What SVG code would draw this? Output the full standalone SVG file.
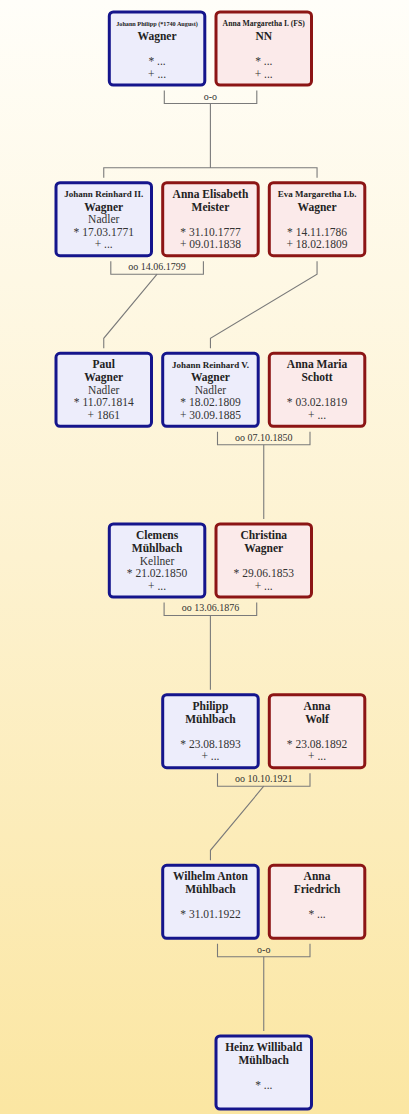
<svg xmlns="http://www.w3.org/2000/svg" width="409" height="1114" viewBox="0 0 409 1114">
<defs>
<linearGradient id="bg" x1="0" y1="0" x2="0" y2="1">
<stop offset="0" stop-color="#fffef9"/>
<stop offset="0.5" stop-color="#fdf2d0"/>
<stop offset="1" stop-color="#fbe6a2"/>
</linearGradient>
</defs>
<style>
.m rect{fill:#ededfb;stroke:#15158c;stroke-width:3}
.f rect{fill:#fbeaea;stroke:#8c1515;stroke-width:3}
text{font-family:"Liberation Serif","Times New Roman",serif;text-anchor:middle;fill:#333}
.n{font-weight:bold;font-size:11.5px;fill:#222}
.s{font-weight:bold;font-size:9px;fill:#222}
.t{font-size:11.5px}
.l{font-size:10px;fill:#333}
.c{fill:none;stroke:#7a7a7a;stroke-width:1.1}
</style>
<rect x="0" y="0" width="409" height="1114" fill="url(#bg)"/>
<g id="connectors">
<path class="c" d="M164.3,90.5 V103.5 H256.8 V90.5"/>
<path class="c" d="M210.4,103.5 V167.7 M103.75,177.7 V167.7 H317.05 V177.7"/>
<path class="c" d="M110.8,261.2 V274.2 H203.4 V261.2"/>
<path class="c" d="M157.1,274.2 L103.75,338.3 V348.3"/>
<path class="c" d="M317.05,261.2 V274.2 L210.45,338.3 V348.3"/>
<path class="c" d="M217.5,431.8 V444.8 H310 V431.8"/>
<path class="c" d="M263.75,444.8 V519"/>
<path class="c" d="M164.1,602.5 V615.5 H256.7 V602.5"/>
<path class="c" d="M210.4,615.5 V689.7"/>
<path class="c" d="M217.5,773.2 V786.2 H310 V773.2"/>
<path class="c" d="M263.75,786.2 L210.45,850.3 V860.3"/>
<path class="c" d="M217.5,943.8 V956.8 H310 V943.8"/>
<path class="c" d="M263.75,956.8 V1031"/>
<text class="l" x="210.4" y="99.5">o-o</text>
<text class="l" x="157.1" y="270">oo 14.06.1799</text>
<text class="l" x="263.75" y="440.6">oo 07.10.1850</text>
<text class="l" x="210.4" y="611.3">oo 13.06.1876</text>
<text class="l" x="263.75" y="782">oo 10.10.1921</text>
<text class="l" x="263.75" y="952.6">o-o</text>
</g>
<g id="johann-philipp" class="m" transform="translate(109.3,12)">
<rect width="95.5" height="73" rx="4"/>
<text class="s" x="47.75" y="13.5" style="font-size:6.2px">Johann Philipp (*1740 August)</text>
<text class="n" x="47.75" y="28">Wagner</text>
<text class="t" x="47.75" y="53">* ...</text>
<text class="t" x="47.75" y="65.5">+ ...</text>
</g>
<g id="anna-margaretha-i" class="f" transform="translate(216,12)">
<rect width="95.5" height="73" rx="4"/>
<text class="s" x="47.75" y="14" style="font-size:7.7px">Anna Margaretha I. (FS)</text>
<text class="n" x="47.75" y="28">NN</text>
<text class="t" x="47.75" y="53">* ...</text>
<text class="t" x="47.75" y="65.5">+ ...</text>
</g>
<g id="johann-reinhard-ii" class="m" transform="translate(56,182.7)">
<rect width="95.5" height="73" rx="4"/>
<text class="s" x="47.75" y="14.3">Johann Reinhard II.</text>
<text class="n" x="47.75" y="28">Wagner</text>
<text class="t" x="47.75" y="40.5">Nadler</text>
<text class="t" x="47.75" y="53">* 17.03.1771</text>
<text class="t" x="47.75" y="65.5">+ ...</text>
</g>
<g id="anna-elisabeth" class="f" transform="translate(162.7,182.7)">
<rect width="95.5" height="73" rx="4"/>
<text class="n" x="47.75" y="15">Anna Elisabeth</text>
<text class="n" x="47.75" y="28">Meister</text>
<text class="t" x="47.75" y="53">* 31.10.1777</text>
<text class="t" x="47.75" y="65.5">+ 09.01.1838</text>
</g>
<g id="eva-margaretha" class="f" transform="translate(269.3,182.7)">
<rect width="95.5" height="73" rx="4"/>
<text class="s" x="47.75" y="14.3">Eva Margaretha I.b.</text>
<text class="n" x="47.75" y="28">Wagner</text>
<text class="t" x="47.75" y="53">* 14.11.1786</text>
<text class="t" x="47.75" y="65.5">+ 18.02.1809</text>
</g>
<g id="paul" class="m" transform="translate(56,353.3)">
<rect width="95.5" height="73" rx="4"/>
<text class="n" x="47.75" y="15">Paul</text>
<text class="n" x="47.75" y="28">Wagner</text>
<text class="t" x="47.75" y="40.5">Nadler</text>
<text class="t" x="47.75" y="53">* 11.07.1814</text>
<text class="t" x="47.75" y="65.5">+ 1861</text>
</g>
<g id="johann-reinhard-v" class="m" transform="translate(162.7,353.3)">
<rect width="95.5" height="73" rx="4"/>
<text class="s" x="47.75" y="14.3">Johann Reinhard V.</text>
<text class="n" x="47.75" y="28">Wagner</text>
<text class="t" x="47.75" y="40.5">Nadler</text>
<text class="t" x="47.75" y="53">* 18.02.1809</text>
<text class="t" x="47.75" y="65.5">+ 30.09.1885</text>
</g>
<g id="anna-maria" class="f" transform="translate(269.3,353.3)">
<rect width="95.5" height="73" rx="4"/>
<text class="n" x="47.75" y="15">Anna Maria</text>
<text class="n" x="47.75" y="28">Schott</text>
<text class="t" x="47.75" y="53">* 03.02.1819</text>
<text class="t" x="47.75" y="65.5">+ ...</text>
</g>
<g id="clemens" class="m" transform="translate(109.3,524)">
<rect width="95.5" height="73" rx="4"/>
<text class="n" x="47.75" y="15">Clemens</text>
<text class="n" x="47.75" y="28">Mühlbach</text>
<text class="t" x="47.75" y="40.5">Kellner</text>
<text class="t" x="47.75" y="53">* 21.02.1850</text>
<text class="t" x="47.75" y="65.5">+ ...</text>
</g>
<g id="christina" class="f" transform="translate(216,524)">
<rect width="95.5" height="73" rx="4"/>
<text class="n" x="47.75" y="15">Christina</text>
<text class="n" x="47.75" y="28">Wagner</text>
<text class="t" x="47.75" y="53">* 29.06.1853</text>
<text class="t" x="47.75" y="65.5">+ ...</text>
</g>
<g id="philipp" class="m" transform="translate(162.7,694.7)">
<rect width="95.5" height="73" rx="4"/>
<text class="n" x="47.75" y="15">Philipp</text>
<text class="n" x="47.75" y="28">Mühlbach</text>
<text class="t" x="47.75" y="53">* 23.08.1893</text>
<text class="t" x="47.75" y="65.5">+ ...</text>
</g>
<g id="anna-wolf" class="f" transform="translate(269.3,694.7)">
<rect width="95.5" height="73" rx="4"/>
<text class="n" x="47.75" y="15">Anna</text>
<text class="n" x="47.75" y="28">Wolf</text>
<text class="t" x="47.75" y="53">* 23.08.1892</text>
<text class="t" x="47.75" y="65.5">+ ...</text>
</g>
<g id="wilhelm-anton" class="m" transform="translate(162.7,865.3)">
<rect width="95.5" height="73" rx="4"/>
<text class="n" x="47.75" y="15">Wilhelm Anton</text>
<text class="n" x="47.75" y="28">Mühlbach</text>
<text class="t" x="47.75" y="53">* 31.01.1922</text>
</g>
<g id="anna-friedrich" class="f" transform="translate(269.3,865.3)">
<rect width="95.5" height="73" rx="4"/>
<text class="n" x="47.75" y="15">Anna</text>
<text class="n" x="47.75" y="28">Friedrich</text>
<text class="t" x="47.75" y="53">* ...</text>
</g>
<g id="heinz-willibald" class="m" transform="translate(216,1036)">
<rect width="95.5" height="73" rx="4"/>
<text class="n" x="47.75" y="15">Heinz Willibald</text>
<text class="n" x="47.75" y="28">Mühlbach</text>
<text class="t" x="47.75" y="53">* ...</text>
</g>
</svg>
